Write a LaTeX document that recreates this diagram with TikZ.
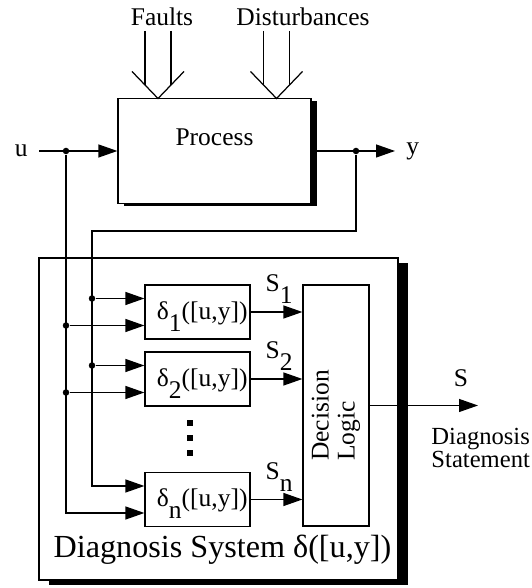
\documentclass[tikz,border=0pt]{standalone}
\usepackage{fontspec}
\setmainfont{Liberation Serif}
\usepackage{tikz}
\usetikzlibrary{calc, positioning, arrows.meta, shadows}

\newcommand{\lowsub}[1]{\raisebox{-0.24cm}{#1}}

\begin{document}
\begin{tikzpicture}[>={Triangle[length=0.38cm, width=0.26cm]}, line width=0.7pt,
    every node/.style={font=\fontsize{14.5}{14.8}\selectfont},
    blk/.style={draw, fill=white, inner sep=0pt},
    dbox/.style={blk, minimum width=2.1cm, minimum height=1.08cm, text width=2.0cm,
        align=right, inner xsep=0.05cm, text height=0.54cm, text depth=0.24cm},
    junction/.style={circle, fill=black, inner sep=0pt, minimum size=0.13cm}]

    % =================================================================
    % frame of the picture
    % =================================================================
    \useasboundingbox (0,0) rectangle (10.62,11.76);

    % =================================================================
    % process with faults and disturbances
    % =================================================================
    \node[blk, minimum width=3.86cm, minimum height=2.1cm,
        drop shadow={shadow xshift=0.12cm, shadow yshift=-0.05cm, fill=black, opacity=1}]
        (process) at (4.29,8.74) {};
    \node (processtext) at ($(process.center)+(0,0.28)$) {Process};

    \node (faults) at (3.24,11.42) {Faults};
    \node (dist) at (6.06,11.42) {Disturbances};
    \foreach \ax in {3.16,5.53} {
        \draw (\ax-0.52,10.33) -- (\ax,9.79) -- (\ax+0.52,10.33);
        \draw (\ax-0.26,11.14) -- (\ax-0.26,10.06);
        \draw (\ax+0.26,11.14) -- (\ax+0.26,10.06);
    }

    % input u and output y
    \coordinate (uin) at (0.78,8.74);
    \node[left=0.1cm of uin] (ulabel) {u};
    \draw[->] (uin) -- (process.west);
    \node[junction] (uj) at (1.32,8.74) {};

    \coordinate (yout) at (7.9,8.74);
    \node[right=0.1cm of yout] (ylabel) {y};
    \draw[->] (process.east) -- (yout);
    \node[junction] (yj) at (7.12,8.74) {};

    % =================================================================
    % diagnosis system
    % =================================================================
    \node[blk, minimum width=7.18cm, minimum height=6.44cm,
        drop shadow={shadow xshift=0.2cm, shadow yshift=-0.1cm, fill=black, opacity=1}]
        (diag) at (4.37,3.38) {};
    \node[font=\fontsize{18.3}{20}\selectfont] (diaglabel) at (4.45,0.76) {Diagnosis System δ([u,y])};

    \node[dbox] (delta1) at (3.95,5.52) {δ\lowsub{1}([u,y])};
    \node[dbox] (delta2) at (3.95,4.18) {δ\lowsub{2}([u,y])};
    \node[dbox] (deltan) at (3.95,1.77) {δ\lowsub{n}([u,y])};

    \node[blk, minimum width=1.32cm, minimum height=4.82cm] (decision) at (6.72,3.65) {};
    \node[rotate=90, align=left] (decisiontext) at (6.72,3.45) {Decision\\Logic};

    % vertical dots
    \foreach \yy in {3.3,3.0,2.7}
        \fill (3.8-0.065,\yy-0.06) rectangle (3.8+0.065,\yy+0.06);

    % signals S_k into the decision logic
    \foreach \k in {1,2,n} {
        \draw[->] (delta\k.east) -- (delta\k.east -| decision.west);
        \node[anchor=base west] (s\k) at ($(delta\k.east)+(0.17,0.4)$) {S\lowsub{\k}};
    }

    % u and y fed to the generators
    \coordinate (ylow) at ($(deltan.west)+(0,0.27)$);
    \coordinate (ulow) at ($(deltan.west)+(0,-0.27)$);
    \draw[->] (yj) |- (1.84,7.14) |- (ylow);
    \draw[->] (uj) |- (ulow);
    \foreach \k/\yy in {1/5.52, 2/4.18} {
        \node[junction] (yb\k) at (1.84,\yy+0.27) {};
        \node[junction] (ub\k) at (1.32,\yy-0.27) {};
        \draw[->] (yb\k) -- (yb\k -| delta\k.west);
        \draw[->] (ub\k) -- (ub\k -| delta\k.west);
    }

    % =================================================================
    % diagnosis statement
    % =================================================================
    \coordinate (sout) at (9.56,3.65);
    \draw[->] (decision.east) -- (sout);
    \node (slabel) at (9.22,4.2) {S};
    \node[anchor=west, align=left, font=\fontsize{14}{13}\selectfont] (statement) at (8.5,2.8) {Diagnosis\\Statement};

\end{tikzpicture}
\end{document}
